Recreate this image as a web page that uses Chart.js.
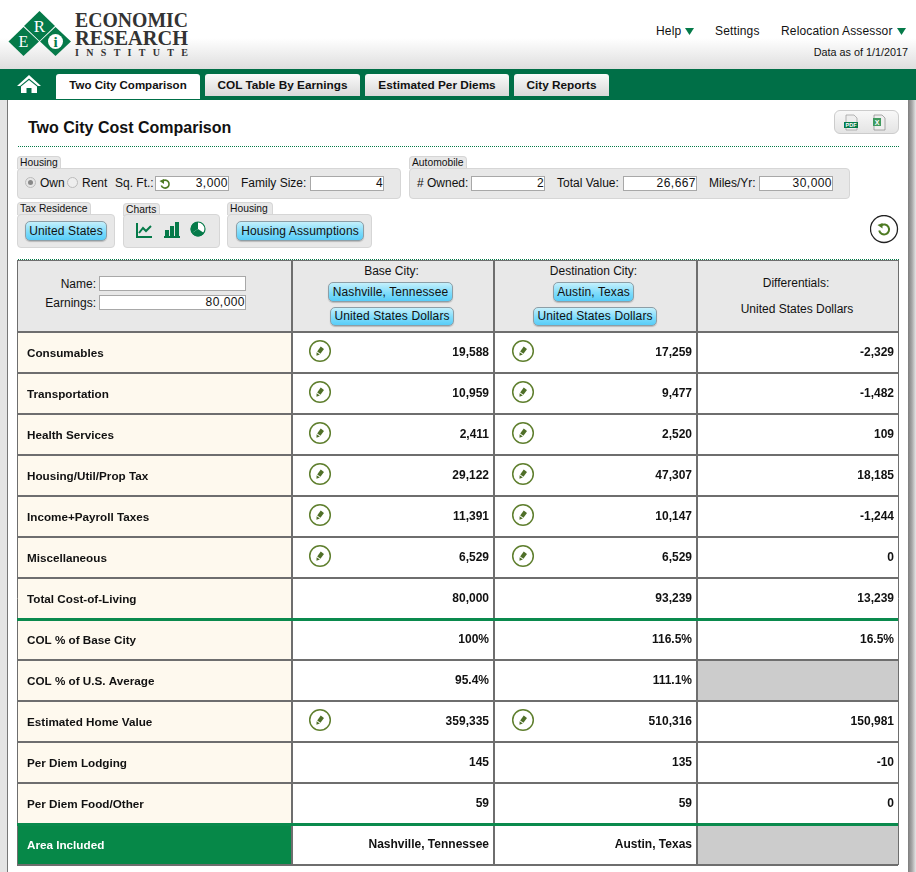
<!DOCTYPE html>
<html>
<head>
<meta charset="utf-8">
<title>Two City Cost Comparison</title>
<script src="https://cdn.jsdelivr.net/npm/chart.js@4"></script>
<style>
html,body{margin:0;padding:0;background:#fff}
body{position:relative;width:916px;height:872px;overflow:hidden;font:12px "Liberation Sans",Arial,sans-serif;color:#111}
.a,.t,.inp,.btn,.tab,.box,.lbl,.nav{position:absolute;box-sizing:border-box}
.t{white-space:nowrap;line-height:14px}
.inp{height:15px;background:#fff;border:1px solid #a8a8a8;text-align:right;line-height:13px;padding-right:0;letter-spacing:.45px}
.btn{background:linear-gradient(#c4f0fc,#7fdcfb 55%,#58cdf8);border:1px solid #8d9ea6;border-radius:5px;text-align:center;letter-spacing:.12px;white-space:nowrap;box-shadow:0 1px 1px #bbb}
.box{background:#e8e8e8;border:1px solid #d6d6d6;border-radius:4px}
.lbl{background:#e8e8e8;border:1px solid #d6d6d6;border-bottom:none;border-radius:4px 4px 0 0;font-size:10.3px;line-height:12px;padding-left:2px;height:13px;white-space:nowrap}
.tab{top:74px;height:22px;background:linear-gradient(#fafafa,#d9d9d9);border-radius:3px 3px 0 0;text-align:center;font-weight:bold;font-size:11.8px;line-height:22px;white-space:nowrap}
#chartBox{position:absolute;left:16px;top:331px}
</style>
</head>
<body>
<!-- page header -->
<div class="a" style="left:0;top:0;width:916px;height:69px;background:linear-gradient(#fff 0,#fff 38px,#dedede 69px)"></div>
<svg class="a" style="left:0;top:0" width="200" height="69">
  <g fill="#057a49">
    <polygon points="39.5,11 55,26 39.5,41 24,26"/>
    <polygon points="23.5,27 39,41.5 23.5,56 8.5,41.5"/>
    <polygon points="55.5,27 71,41.5 55.5,56 40,41.5"/>
  </g>
  <circle cx="55.5" cy="41.5" r="7.5" fill="#fff"/>
  <g font-family="'Liberation Serif',serif" text-anchor="middle">
    <text x="39.5" y="32" font-size="17" fill="#fff">R</text>
    <text x="23.5" y="47" font-size="16" fill="#fff">E</text>
    <text x="55.5" y="47" font-size="15" font-weight="bold" fill="#057a49">i</text>
    <g fill="#333" text-anchor="start">
      <text x="75" y="27" font-size="22" font-weight="bold" textLength="113" lengthAdjust="spacingAndGlyphs">ECONOMIC</text>
      <text x="75" y="45" font-size="22" font-weight="bold" textLength="113" lengthAdjust="spacingAndGlyphs">RESEARCH</text>
      <text x="75" y="56" font-size="10" font-weight="bold" textLength="113">INSTITUTE</text>
    </g>
  </g>
</svg>
<div class="t" style="left:656px;top:24px;letter-spacing:.15px">Help</div>
<svg class="a" style="left:685px;top:28px" width="9" height="8"><polygon points="0,0 9,0 4.5,7" fill="#057a49"/></svg>
<div class="t" style="left:715px;top:24px;letter-spacing:.15px">Settings</div>
<div class="t" style="left:781px;top:24px;letter-spacing:.15px">Relocation Assessor</div>
<svg class="a" style="left:897px;top:28px" width="9" height="8"><polygon points="0,0 9,0 4.5,7" fill="#057a49"/></svg>
<div class="t" style="right:8px;top:45px;font-size:10.8px">Data as of 1/1/2017</div>

<!-- nav bar -->
<div class="a" style="left:0;top:69px;width:916px;height:31px;background:#006f47"></div>
<svg class="a" style="left:16px;top:74px" width="26" height="20">
  <polygon points="13,1 25,12 22,12 13,4.5 4,12 1,12" fill="#fff"/>
  <polygon points="13,6 21,12.5 21,19 15.5,19 15.5,14 10.5,14 10.5,19 5,19 5,12.5" fill="#fff"/>
</svg>
<div class="tab" style="left:56px;width:144px;height:25px;background:#fff;line-height:22px;font-size:11.5px">Two City Comparison</div>
<div class="tab" style="left:205px;width:155px">COL Table By Earnings</div>
<div class="tab" style="left:365px;width:144px">Estimated Per Diems</div>
<div class="tab" style="left:514px;width:95px">City Reports</div>

<!-- content frame -->
<div class="a" style="left:0;top:100px;width:7px;height:772px;background:#e4e4e4"></div>
<div class="a" style="left:7px;top:100px;width:1px;height:772px;background:#777"></div>
<div class="a" style="left:908px;top:100px;width:8px;height:772px;background:linear-gradient(90deg,#7d7d7d,#a8a8a8 50%,#e6e6e6)"></div>

<div class="t" style="left:28px;top:118px;font-size:16px;line-height:19px;font-weight:bold">Two City Cost Comparison</div>
<div class="a" style="left:834px;top:110px;width:65px;height:24px;border:1px solid #ccc;border-radius:6px;background:linear-gradient(#f8f8f8,#e4e4e4)"></div>
<svg class="a" style="left:844px;top:114px" width="50" height="18">
  <path d="M2 1h8l3 3v12H2z" fill="#eee" stroke="#999" stroke-width=".7"/>
  <rect x="0" y="8" width="14" height="6" fill="#057a49"/>
  <text x="7" y="13" font-size="5.5" font-weight="bold" fill="#fff" text-anchor="middle" font-family="Liberation Sans">PDF</text>
  <path d="M30 1h8l3 3v12H30z" fill="#eee" stroke="#888" stroke-width=".7"/>
  <rect x="29" y="4" width="8" height="8" fill="#3f9a5e"/>
  <text x="33" y="11" font-size="7" font-weight="bold" fill="#fff" text-anchor="middle" font-family="Liberation Sans">X</text>
</svg>
<div class="a" style="left:18px;top:146px;width:881px;border-top:1px dotted #057a49"></div>

<!-- input groups -->
<div class="lbl" style="left:17px;top:156px;width:44px">Housing</div>
<div class="box" style="left:17px;top:168px;width:384px;height:31px"></div>
<div class="a" style="left:25px;top:177px;width:11px;height:11px;border-radius:50%;background:#e6e6e6;border:1px solid #bbb"></div>
<div class="a" style="left:28px;top:180px;width:5px;height:5px;border-radius:50%;background:#888"></div>
<div class="t" style="left:40px;top:176px">Own</div>
<div class="a" style="left:67px;top:177px;width:11px;height:11px;border-radius:50%;background:#eee;border:1px solid #bbb"></div>
<div class="t" style="left:82px;top:176px">Rent</div>
<div class="t" style="left:115px;top:176px">Sq. Ft.:</div>
<div class="inp" style="left:155px;top:176px;width:74px">3,000</div>
<svg class="a" style="left:159px;top:178px" width="12" height="12"><path d="M3 3.5A4 4 0 1 1 2.3 7.5" fill="none" stroke="#4d7a22" stroke-width="1.6"/><polygon points="0.5,3 5,1 5,6" fill="#4d7a22"/></svg>
<div class="t" style="left:241px;top:176px">Family Size:</div>
<div class="inp" style="left:310px;top:176px;width:74px">4</div>

<div class="lbl" style="left:409px;top:156px;width:58px">Automobile</div>
<div class="box" style="left:409px;top:168px;width:441px;height:31px"></div>
<div class="t" style="left:417px;top:176px"># Owned:</div>
<div class="inp" style="left:471px;top:176px;width:74px">2</div>
<div class="t" style="left:557px;top:176px">Total Value:</div>
<div class="inp" style="left:623px;top:176px;width:74px">26,667</div>
<div class="t" style="left:709px;top:176px">Miles/Yr:</div>
<div class="inp" style="left:759px;top:176px;width:74px">30,000</div>

<div class="lbl" style="left:17px;top:202px;width:74px">Tax Residence</div>
<div class="box" style="left:17px;top:214px;width:98px;height:34px"></div>
<div class="btn" style="left:25px;top:221px;width:82px;height:20px;line-height:18px">United States</div>
<div class="lbl" style="left:123px;top:203px;width:37px">Charts</div>
<div class="box" style="left:123px;top:214px;width:97px;height:34px"></div>
<svg class="a" style="left:135px;top:220px" width="74" height="20">
  <path d="M2 3v14h15" fill="none" stroke="#057a49" stroke-width="2"/>
  <path d="M4 13l4-5 3 3 5-5" fill="none" stroke="#057a49" stroke-width="2"/>
  <rect x="30" y="10" width="4" height="7" fill="#057a49"/><rect x="35" y="6" width="4" height="11" fill="#057a49"/><rect x="40" y="2" width="4" height="15" fill="#057a49"/>
  <rect x="29" y="16" width="16" height="2" fill="#057a49"/>
  <circle cx="63" cy="9" r="7" fill="#fff" stroke="#057a49" stroke-width="1.2"/>
  <path d="M63 9V2A7 7 0 0 0 57 13z" fill="#057a49"/><path d="M63 9l6 4A7 7 0 0 1 57 13z" fill="#057a49"/>
</svg>
<div class="lbl" style="left:227px;top:202px;width:46px">Housing</div>
<div class="box" style="left:227px;top:214px;width:145px;height:34px"></div>
<div class="btn" style="left:236px;top:221px;width:128px;height:20px;line-height:18px">Housing Assumptions</div>
<svg class="a" style="left:870px;top:215px" width="30" height="30">
  <circle cx="14" cy="14" r="13.5" fill="#fff" stroke="#222" stroke-width="1.3"/>
  <path d="M11 10.5A5 5 0 1 1 9.2 15.5" fill="none" stroke="#4d7a22" stroke-width="2"/>
  <polygon points="7.5,10 12.5,8 12.5,13.5" fill="#4d7a22"/>
</svg>

<!-- table header -->
<div class="a" style="left:18px;top:259px;width:881px;border-top:1px dotted #057a49"></div>
<div class="a" style="left:17px;top:260px;width:882px;height:73px;background:#e8e8e8;border:solid #6e6e6e;border-width:1.5px 1px 0 1px"></div>
<div class="a" style="left:291px;top:260px;width:2px;height:72px;background:#6e6e6e"></div>
<div class="a" style="left:493px;top:260px;width:2px;height:72px;background:#6e6e6e"></div>
<div class="a" style="left:696px;top:260px;width:2px;height:72px;background:#6e6e6e"></div>
<div class="t" style="right:820px;top:277px">Name:</div>
<div class="inp" style="left:99px;top:276px;width:147px"></div>
<div class="t" style="right:820px;top:296px">Earnings:</div>
<div class="inp" style="left:99px;top:295px;width:147px">80,000</div>
<div class="t" style="left:291px;width:201px;top:264px;text-align:center">Base City:</div>
<div class="btn" style="left:328px;top:282px;width:125px;height:20px;line-height:18px">Nashville, Tennessee</div>
<div class="btn" style="left:330px;top:307px;width:124px;height:19px;line-height:17px">United States Dollars</div>
<div class="t" style="left:493px;width:201px;top:264px;text-align:center">Destination City:</div>
<div class="btn" style="left:553px;top:282px;width:81px;height:20px;line-height:18px">Austin, Texas</div>
<div class="btn" style="left:533px;top:307px;width:124px;height:19px;line-height:17px">United States Dollars</div>
<div class="t" style="left:696px;width:200px;top:276px;text-align:center">Differentials:</div>
<div class="t" style="left:697px;width:200px;top:302px;text-align:center">United States Dollars</div>

<div id="chartBox"><canvas id="costTable" width="885" height="536"></canvas></div>

<script>
const rowLabels = ['Consumables', 'Transportation', 'Health Services', 'Housing/Util/Prop Tax',
  'Income+Payroll Taxes', 'Miscellaneous', 'Total Cost-of-Living', 'COL % of Base City',
  'COL % of U.S. Average', 'Estimated Home Value', 'Per Diem Lodging', 'Per Diem Food/Other', 'Area Included'];
const baseCity = ['19,588', '10,959', '2,411', '29,122', '11,391', '6,529', '80,000', '100%', '95.4%',
  '359,335', '145', '59', 'Nashville, Tennessee'];
const destCity = ['17,259', '9,477', '2,520', '47,307', '10,147', '6,529', '93,239', '116.5%', '111.1%',
  '510,316', '135', '59', 'Austin, Texas'];
const differentials = ['-2,329', '-1,482', '109', '18,185', '-1,244', '0', '13,239', '16.5%', '',
  '150,981', '-10', '0', ''];
const editableRows = ['Consumables', 'Transportation', 'Health Services', 'Housing/Util/Prop Tax',
  'Income+Payroll Taxes', 'Miscellaneous', 'Estimated Home Value'];

// table layout, one x unit is one pixel
const columnWidths = [275, 202, 203, 201];
const lineColor = '#6e6e6e';
const greenLine = '#0a8a4d';
const textFont = 'bold 12px "Liberation Sans"';

function columnEdge(n) {
  let sum = 0;
  for (let i = 0; i < n; i++) sum += columnWidths[i];
  return sum;
}

function cellColor(col, row) {
  if (col == 0) return row == 12 ? '#068848' : '#fef9ee';
  if (col == 3 && differentials[row] == '') return '#cccccc';
  return '#ffffff';
}

function pencil(ctx, cx, cy) {
  ctx.save();
  ctx.strokeStyle = '#5f7f2e';
  ctx.lineWidth = 1.5;
  ctx.beginPath();
  ctx.arc(cx, cy, 10.3, 0, Math.PI * 2);
  ctx.stroke();
  ctx.translate(cx, cy);
  ctx.rotate(Math.PI / 5);
  ctx.fillStyle = '#4f6f28';
  ctx.fillRect(-2, -4, 4, 6);
  ctx.beginPath();
  ctx.moveTo(-2, 3);
  ctx.lineTo(2, 3);
  ctx.lineTo(0, 6);
  ctx.fill();
  ctx.restore();
}

// cell texts and edit icons sit on the chart's own scales
const cellText = {
  id: 'cellText',
  afterDraw(chart) {
    const ctx = chart.ctx;
    const x = chart.scales.x;
    const y = chart.scales.y;
    ctx.save();
    ctx.font = textFont;
    ctx.fillStyle = '#111';
    ctx.textAlign = 'right';
    ctx.textBaseline = 'middle';
    [baseCity, destCity, differentials].forEach((values, c) => {
      const right = x.getPixelForValue(columnEdge(c + 2)) - (c == 2 ? 4 : 5);
      values.forEach((v, i) => {
        ctx.fillText(v, right, y.getPixelForValue(i));
      });
    });
    ctx.restore();
    rowLabels.forEach((label, i) => {
      if (!editableRows.includes(label)) return;
      pencil(ctx, x.getPixelForValue(columnEdge(1)) + 28, y.getPixelForValue(i) - 1.5);
      pencil(ctx, x.getPixelForValue(columnEdge(2)) + 29, y.getPixelForValue(i) - 1.5);
    });
  }
};

new Chart(document.getElementById('costTable'), {
  type: 'bar',
  data: {
    labels: rowLabels,
    datasets: columnWidths.map((w, c) => ({
      data: rowLabels.map(() => w),
      backgroundColor: rowLabels.map((r, i) => cellColor(c, i)),
      borderWidth: 0,
      barPercentage: 1,
      categoryPercentage: 1
    }))
  },
  options: {
    indexAxis: 'y',
    responsive: false,
    animation: false,
    devicePixelRatio: 1,
    layout: { padding: { left: 1, right: 3, top: 1, bottom: 2 } },
    plugins: { legend: { display: false }, tooltip: { enabled: false } },
    scales: {
      x: {
        stacked: true,
        min: 0,
        max: columnEdge(4),
        afterBuildTicks(scale) {
          scale.ticks = [0, 1, 2, 3, 4].map(n => ({ value: columnEdge(n) }));
        },
        afterFit(scale) {
          scale.height = 0;
          scale.paddingLeft = 0;
          scale.paddingRight = 0;
        },
        ticks: { display: false },
        grid: {
          z: 1,
          color: lineColor,
          lineWidth: ctx => (ctx.index == 0 || ctx.index == 4) ? 1 : 2,
          drawTicks: false
        },
        border: { display: false }
      },
      y: {
        stacked: true,
        afterFit(scale) {
          scale.width = 0;
          scale.paddingTop = 0;
          scale.paddingBottom = 0;
        },
        ticks: {
          z: 3,
          mirror: true,
          padding: 10,
          labelOffset: 1,
          font: { family: 'Liberation Sans', size: 11.7, weight: 'bold' },
          color: ctx => ctx.index == 12 ? '#ffffff' : '#111111'
        },
        grid: {
          z: 2,
          drawTicks: false,
          lineWidth: ctx => (ctx.index == 7 || ctx.index == 12) ? 3 : 2,
          color: ctx => (ctx.index == 7 || ctx.index == 12) ? greenLine : lineColor
        },
        border: { display: false }
      }
    }
  },
  plugins: [cellText]
});
</script>
</body>
</html>
